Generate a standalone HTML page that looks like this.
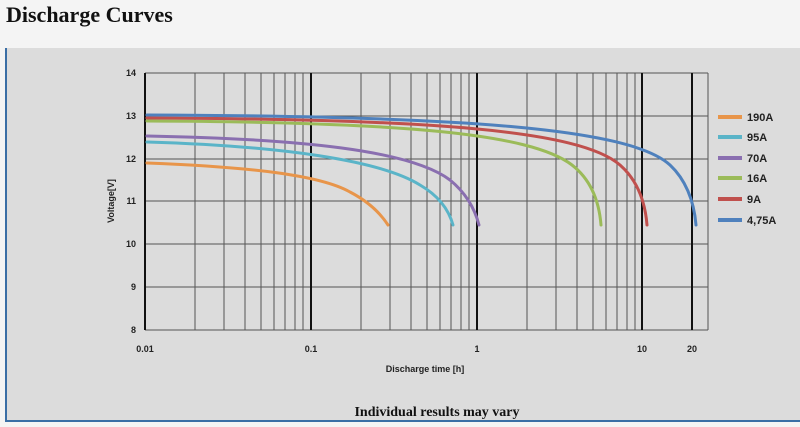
<!DOCTYPE html>
<html><head><style>
body{margin:0;width:800px;height:427px;background:#f4f4f4;overflow:hidden;font-family:"Liberation Sans",sans-serif}
h1{position:absolute;left:6px;top:2px;margin:0;font:bold 22px "Liberation Serif",serif;color:#111}
</style></head><body>
<h1>Discharge Curves</h1>
<svg width="800" height="427" style="position:absolute;left:0;top:0">
<rect x="5" y="48" width="795" height="373" fill="#dcdcdc"/>
<line x1="6" y1="48" x2="6" y2="421" stroke="#3a6ea5" stroke-width="2"/>
<line x1="5" y1="421" x2="800" y2="421" stroke="#3a6ea5" stroke-width="2"/>
<g stroke="#555" stroke-width="1">
<line x1="145" y1="73" x2="708" y2="73"/>
<line x1="145" y1="116" x2="708" y2="116"/>
<line x1="145" y1="159" x2="708" y2="159"/>
<line x1="145" y1="201" x2="708" y2="201"/>
<line x1="145" y1="244" x2="708" y2="244"/>
<line x1="145" y1="287" x2="708" y2="287"/>
<line x1="145" y1="330" x2="708" y2="330"/>
<line x1="708" y1="73" x2="708" y2="330"/>
</g>
<g stroke="#555" stroke-width="1">
<line x1="195" y1="73" x2="195" y2="330"/><line x1="224" y1="73" x2="224" y2="330"/><line x1="245" y1="73" x2="245" y2="330"/><line x1="261" y1="73" x2="261" y2="330"/><line x1="274" y1="73" x2="274" y2="330"/><line x1="285" y1="73" x2="285" y2="330"/><line x1="295" y1="73" x2="295" y2="330"/><line x1="303" y1="73" x2="303" y2="330"/>
<line x1="361" y1="73" x2="361" y2="330"/><line x1="390" y1="73" x2="390" y2="330"/><line x1="411" y1="73" x2="411" y2="330"/><line x1="427" y1="73" x2="427" y2="330"/><line x1="440" y1="73" x2="440" y2="330"/><line x1="451" y1="73" x2="451" y2="330"/><line x1="461" y1="73" x2="461" y2="330"/><line x1="469" y1="73" x2="469" y2="330"/>
<line x1="527" y1="73" x2="527" y2="330"/><line x1="556" y1="73" x2="556" y2="330"/><line x1="577" y1="73" x2="577" y2="330"/><line x1="593" y1="73" x2="593" y2="330"/><line x1="606" y1="73" x2="606" y2="330"/><line x1="617" y1="73" x2="617" y2="330"/><line x1="627" y1="73" x2="627" y2="330"/><line x1="635" y1="73" x2="635" y2="330"/>
</g>
<g stroke="#111" stroke-width="2">
<line x1="145" y1="73" x2="145" y2="330"/><line x1="311" y1="73" x2="311" y2="330"/><line x1="477" y1="73" x2="477" y2="330"/><line x1="642" y1="73" x2="642" y2="330"/><line x1="692" y1="73" x2="692" y2="330"/>
</g>
<g fill="none" stroke-width="3" stroke-linecap="round">
<path d="M147,163 C250,167 320,175 350,192 Q375,205 388,225" stroke="#e8954a"/>
<path d="M147,142 C280,146 380,160 420,185 Q446,200 453,225" stroke="#5ab4c8"/>
<path d="M147,136 C300,139 410,150 450,180 Q472,198 479,225" stroke="#8a6fb0"/>
<path d="M147,121 C400,122 530,133 572,165 C590,179 599,200 601,225" stroke="#9bbb59"/>
<path d="M147,118 C430,119 580,130 620,165 C636,179 645,200 647,225" stroke="#c0504d"/>
<path d="M147,115 C460,116 630,128 670,165 C685,179 694,200 696,225" stroke="#4f81bd"/>
</g>
<g font-size="9" font-weight="bold" fill="#222" text-anchor="end">
<text x="136" y="76">14</text><text x="136" y="119">13</text><text x="136" y="162">12</text><text x="136" y="204">11</text><text x="136" y="247">10</text><text x="136" y="290">9</text><text x="136" y="333">8</text>
</g>
<g font-size="9" font-weight="bold" fill="#222" text-anchor="middle">
<text x="145" y="352">0.01</text><text x="311" y="352">0.1</text><text x="477" y="352">1</text><text x="642" y="352">10</text><text x="692" y="352">20</text>
<text x="425" y="372">Discharge time [h]</text>
<text transform="translate(114,201) rotate(-90)">Voltage[V]</text>
</g>
<g stroke-width="4">
<line x1="718" y1="117" x2="742" y2="117" stroke="#e8954a"/>
<line x1="718" y1="137" x2="742" y2="137" stroke="#5ab4c8"/>
<line x1="718" y1="158" x2="742" y2="158" stroke="#8a6fb0"/>
<line x1="718" y1="178" x2="742" y2="178" stroke="#9bbb59"/>
<line x1="718" y1="199" x2="742" y2="199" stroke="#c0504d"/>
<line x1="718" y1="220" x2="742" y2="220" stroke="#4f81bd"/>
</g>
<g font-size="11" font-weight="bold" fill="#222">
<text x="747" y="121">190A</text><text x="747" y="141">95A</text><text x="747" y="162">70A</text><text x="747" y="182">16A</text><text x="747" y="203">9A</text><text x="747" y="224">4,75A</text>
</g>
<text x="437" y="416" text-anchor="middle" font-family="Liberation Serif,serif" font-size="14" font-weight="bold" fill="#111">Individual results may vary</text>
</svg>
</body></html>
